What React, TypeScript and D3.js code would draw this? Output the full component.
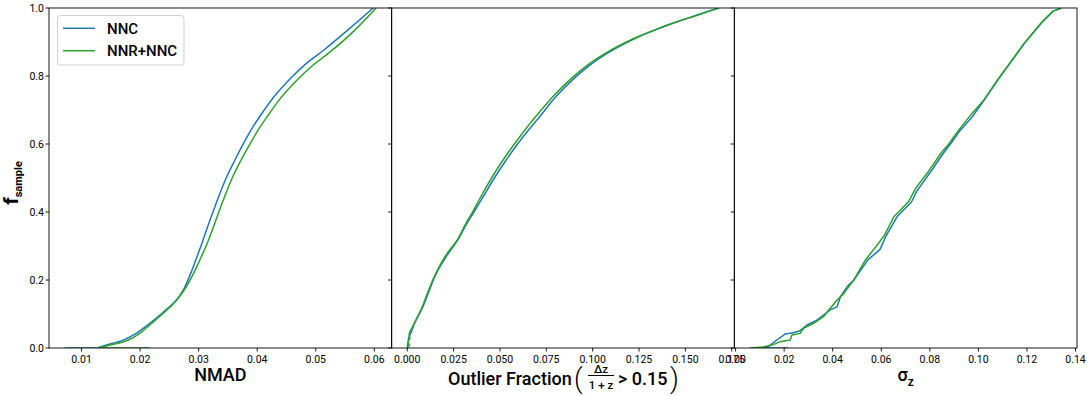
import React from "react";
import * as d3 from "d3";

// ---------- data (x value, cumulative fraction) ----------
const nmadNNC: [number, number][] = [
  [0.0071, 0], [0.0128, 0.001], [0.0148, 0.012], [0.0172, 0.024], [0.0194, 0.044], [0.0216, 0.072],
  [0.0238, 0.103], [0.0262, 0.141], [0.0275, 0.175], [0.0286, 0.218], [0.0296, 0.263], [0.0306, 0.31],
  [0.0316, 0.36], [0.0333, 0.44], [0.0347, 0.5], [0.0362, 0.553], [0.0377, 0.603], [0.0393, 0.651],
  [0.041, 0.695], [0.043, 0.742], [0.0458, 0.795], [0.0484, 0.837], [0.0515, 0.878], [0.0558, 0.94],
  [0.0598, 1.0],
];
const nmadNNR: [number, number][] = [
  [0.0216, 0], [0.013, 0.001], [0.016, 0.013], [0.018, 0.0235], [0.02, 0.044], [0.0218, 0.07],
  [0.024, 0.103], [0.0262, 0.14], [0.0277, 0.175], [0.029, 0.215], [0.0302, 0.259], [0.0314, 0.305],
  [0.0325, 0.355], [0.0342, 0.435], [0.0356, 0.495], [0.0371, 0.548], [0.0387, 0.598], [0.0403, 0.645],
  [0.042, 0.688], [0.044, 0.735], [0.0468, 0.788], [0.0494, 0.83], [0.0524, 0.87], [0.0565, 0.932],
  [0.0603, 1.0],
];
const outlierNNC: [number, number][] = [
  [0, 0], [0.0004, 0.015], [0.0009, 0.033], [0.002, 0.045], [0.004, 0.073], [0.0084, 0.121],
  [0.012, 0.171], [0.0157, 0.22], [0.021, 0.269], [0.0273, 0.318], [0.0315, 0.36], [0.036, 0.4],
  [0.0415, 0.45], [0.047, 0.5], [0.053, 0.55], [0.0595, 0.6], [0.0655, 0.642], [0.0714, 0.68],
  [0.08, 0.738], [0.0894, 0.79], [0.098, 0.83], [0.1074, 0.865], [0.1165, 0.893], [0.1254, 0.917],
  [0.1345, 0.937], [0.1433, 0.955], [0.152, 0.971], [0.16, 0.986], [0.168, 1.0],
];
const outlierNNR: [number, number][] = [
  [0, 0], [0.0012, 0.008], [0.0003, 0.018], [0.0014, 0.03], [0.001, 0.04], [0.0035, 0.07],
  [0.008, 0.12], [0.0115, 0.17], [0.0155, 0.22], [0.0205, 0.27], [0.027, 0.318], [0.031, 0.36],
  [0.0352, 0.4], [0.0402, 0.45], [0.0455, 0.5], [0.0513, 0.55], [0.0578, 0.6], [0.064, 0.645],
  [0.07, 0.685], [0.079, 0.742], [0.0885, 0.793], [0.0972, 0.832], [0.107, 0.867], [0.116, 0.894],
  [0.125, 0.917], [0.1342, 0.937], [0.143, 0.955], [0.1518, 0.971], [0.1603, 0.986], [0.1678, 1.0],
];
const sigmaNNC: [number, number][] = [
  [0.0218, 0], [0.0107, 0.0005], [0.0135, 0.004], [0.017, 0.0235], [0.0204, 0.041], [0.0238, 0.045],
  [0.0266, 0.051], [0.0294, 0.0676], [0.0335, 0.082], [0.0362, 0.097], [0.039, 0.112], [0.0418, 0.121],
  [0.0432, 0.151], [0.0459, 0.18], [0.0487, 0.2], [0.0545, 0.259], [0.0595, 0.29], [0.062, 0.33],
  [0.0665, 0.386], [0.0725, 0.43], [0.0745, 0.46], [0.0805, 0.52], [0.0855, 0.572], [0.0885, 0.6],
  [0.0925, 0.64], [0.0975, 0.68], [0.1024, 0.729], [0.108, 0.788], [0.119, 0.896], [0.1259, 0.955],
  [0.1307, 0.99], [0.1342, 1.0],
];
const sigmaNNR: [number, number][] = [
  [0.0059, 0], [0.0114, 0.003], [0.0156, 0.01], [0.0183, 0.0186], [0.0225, 0.0235], [0.0232, 0.038],
  [0.0266, 0.043], [0.028, 0.058], [0.0321, 0.0725], [0.0362, 0.092], [0.039, 0.1167], [0.0418, 0.141],
  [0.0445, 0.16], [0.0487, 0.2], [0.0535, 0.259], [0.058, 0.3], [0.0612, 0.33], [0.0652, 0.386],
  [0.0712, 0.43], [0.0742, 0.47], [0.0795, 0.52], [0.0845, 0.572], [0.0878, 0.6], [0.0918, 0.64],
  [0.0968, 0.685], [0.1022, 0.729], [0.1078, 0.788], [0.1188, 0.896], [0.1257, 0.955],
  [0.1305, 0.99], [0.134, 1.0],
];

const nmadTicks = [0.01, 0.02, 0.03, 0.04, 0.05, 0.06];
const outlierTicks = [0, 0.025, 0.05, 0.075, 0.1, 0.125, 0.15, 0.175];
const sigmaTicks = [0, 0.02, 0.04, 0.06, 0.08, 0.1, 0.12, 0.14];
const yTicks = [0, 0.2, 0.4, 0.6, 0.8, 1.0];
const seriesNames = ["NNC", "NNR+NNC"];

const COLORS = ["#1f77b4", "#2ca02c"];
const FONT = "Roboto, 'DejaVu Sans', sans-serif";

const W = 1092, H = 396;
const LEFT = 49, RIGHT = 1077, TOP = 8, BOTTOM = 348;
const PW = (RIGHT - LEFT) / 3;

type Panel = {
  series: [number, number][][];
  ticks: number[];
  fmt: string;
  smooth: boolean;
};
const panels: Panel[] = [
  { series: [nmadNNC, nmadNNR], ticks: nmadTicks, fmt: ".2f", smooth: true },
  { series: [outlierNNC, outlierNNR], ticks: outlierTicks, fmt: ".3f", smooth: true },
  { series: [sigmaNNC, sigmaNNR], ticks: sigmaTicks, fmt: ".2f", smooth: false },
];

const y = d3.scaleLinear().domain([0, 1]).range([BOTTOM, TOP]);

export default function App() {
  return (
    <svg width={W} height={H} style={{ position: "absolute", left: 0, top: 0, background: "white" }}
      fontFamily={FONT}>
      <rect x={0} y={0} width={W} height={H} fill="white" />
      {panels.map((p, i) => {
        const x0 = LEFT + i * PW;
        const all = p.series.flat().map((d) => d[0]);
        const [mn, mx] = d3.extent(all) as [number, number];
        const pad = (mx - mn) * 0.05;
        const x = d3.scaleLinear().domain([mn - pad, mx + pad]).range([x0, x0 + PW]);
        const lin = d3.line<[number, number]>().x((d) => x(d[0])).y((d) => y(d[1]));
        const smooth = d3.line<[number, number]>().x((d) => x(d[0])).y((d) => y(d[1]))
          .curve(d3.curveCatmullRom.alpha(0.5));
        const fmt = d3.format(p.fmt);
        return (
          <g key={i}>
            <defs>
              <clipPath id={`clip${i}`}>
                <rect x={x0} y={TOP} width={PW} height={BOTTOM - TOP} />
              </clipPath>
            </defs>
            <g clipPath={`url(#clip${i})`}>
              {p.series.map((s, k) => (
                <g key={k}>
                  <path d={lin(s.slice(0, 3)) || ""} fill="none" stroke={COLORS[k]} strokeWidth={1.5}
                    strokeLinejoin="round" />
                  <path d={(p.smooth ? smooth : lin)(s.slice(2)) || ""} fill="none" stroke={COLORS[k]}
                    strokeWidth={1.5} strokeLinejoin="round" />
                </g>
              ))}
            </g>
            <rect x={x0} y={TOP} width={PW} height={BOTTOM - TOP} fill="none" stroke="#000" strokeWidth={0.9} />
            {yTicks.map((t) => (
              <line key={t} x1={x0 - 3.5} x2={x0} y1={y(t)} y2={y(t)} stroke="#000" strokeWidth={0.9} />
            ))}
            {i === 0 &&
              yTicks.map((t) => (
                <text key={t} x={x0 - 5} y={y(t) + 3.8} fontSize={10.5} textAnchor="end" fill="#000">
                  {d3.format(".1f")(t)}
                </text>
              ))}
            {p.ticks.map((t) => (
              <g key={t}>
                <line x1={x(t)} x2={x(t)} y1={BOTTOM} y2={BOTTOM + 3.5} stroke="#000" strokeWidth={0.9} />
                <text x={x(t)} y={BOTTOM + 14.5} fontSize={10.5} textAnchor="middle" fill="#000">
                  {fmt(t)}
                </text>
              </g>
            ))}
          </g>
        );
      })}

      {/* x labels */}
      <text x={LEFT + PW / 2} y={381} fontSize={18} textAnchor="middle" fill="#000" fontWeight={500}>
        NMAD
      </text>
      <g fill="#000" fontWeight={500}>
        <text x={448} y={385} fontSize={18}>Outlier Fraction</text>
        <text x={574} y={388} fontSize={27} fontWeight={300}>(</text>
        <text x={601} y={373} fontSize={11.5} textAnchor="middle">Δz</text>
        <line x1={588} x2={614} y1={375.5} y2={375.5} stroke="#000" strokeWidth={1} />
        <text x={601} y={388.5} fontSize={11.5} textAnchor="middle">1 + z</text>
        <text x={618} y={385} fontSize={18}>&gt; 0.15</text>
        <text x={670} y={388} fontSize={27} fontWeight={300}>)</text>
      </g>
      <text x={LEFT + 2.5 * PW} y={381} fontSize={18} textAnchor="middle" fill="#000" fontWeight={500}>
        σ<tspan fontSize={12} dy={5}>z</tspan>
      </text>

      {/* y label */}
      <text transform="translate(17.5,183) rotate(-90)" textAnchor="middle" fill="#000" fontWeight={700}>
        <tspan fontSize={21}>f</tspan>
        <tspan fontSize={11} dy={4}>sample</tspan>
      </text>

      {/* legend */}
      <g>
        <rect x={57.5} y={15.5} width={126.5} height={49.5} rx={3} fill="white" fillOpacity={0.8}
          stroke="#d0d0d0" strokeWidth={1} />
        {seriesNames.map((n, k) => (
          <g key={n}>
            <line x1={63} x2={95} y1={28.3 + k * 22.4} y2={28.3 + k * 22.4} stroke={COLORS[k]} strokeWidth={1.5} />
            <text x={107} y={33.5 + k * 22.4} fontSize={15} fill="#000" fontWeight={500}>{n}</text>
          </g>
        ))}
      </g>
    </svg>
  );
}
